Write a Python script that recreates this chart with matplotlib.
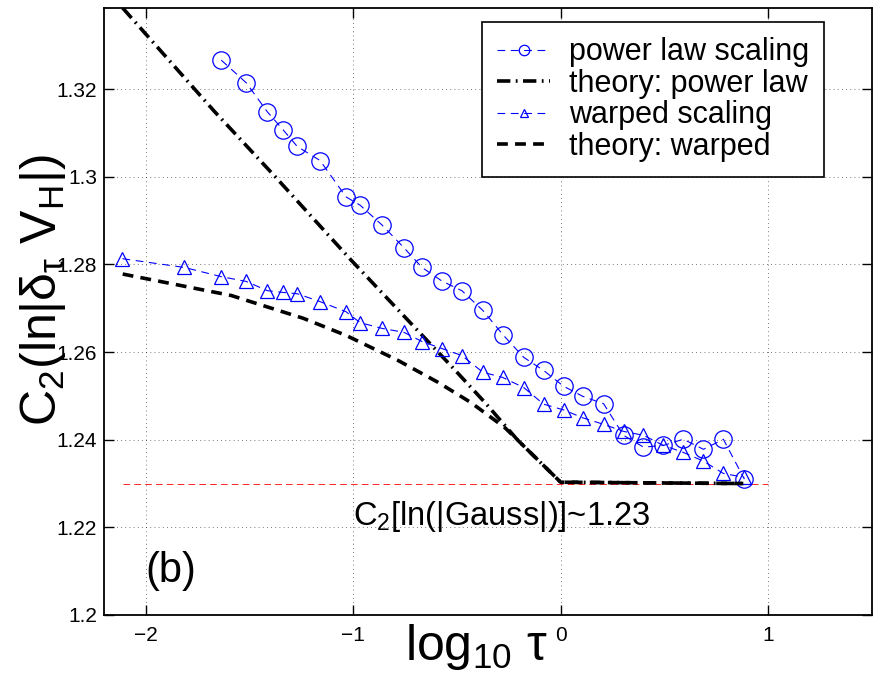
import numpy as np
import matplotlib
matplotlib.use('Agg')
import matplotlib.pyplot as plt

plt.rcParams['font.family'] = ['Liberation Sans', 'DejaVu Sans']
plt.rcParams['mathtext.fontset'] = 'custom'
plt.rcParams['mathtext.rm'] = 'Liberation Sans'
plt.rcParams['mathtext.it'] = 'Liberation Sans'
plt.rcParams['mathtext.bf'] = 'Liberation Sans:bold'

# power law scaling (circles)
pl_x = [-1.635, -1.514, -1.413, -1.337, -1.269, -1.159, -1.034, -0.966, -0.861,
        -0.755, -0.668, -0.572, -0.476, -0.375, -0.279, -0.178, -0.082, 0.014,
        0.106, 0.207, 0.303, 0.399, 0.495, 0.591, 0.688, 0.784, 0.885]
pl_y = [1.3266, 1.3214, 1.3148, 1.3107, 1.3069, 1.3037, 1.2954, 1.2935, 1.2890,
        1.2838, 1.2793, 1.2762, 1.2740, 1.2695, 1.2640, 1.2588, 1.2558, 1.2522,
        1.2499, 1.2482, 1.2410, 1.2383, 1.2387, 1.2401, 1.2378, 1.2401, 1.2310]

# warped scaling (triangles)
wp_x = [-2.111, -1.813, -1.635, -1.514, -1.413, -1.337, -1.269, -1.159, -1.034,
        -0.966, -0.861, -0.755, -0.668, -0.572, -0.476, -0.375, -0.279, -0.178,
        -0.082, 0.014, 0.106, 0.207, 0.303, 0.399, 0.495, 0.591, 0.688, 0.784, 0.885]
wp_y = [1.2813, 1.2793, 1.2772, 1.2761, 1.2740, 1.2736, 1.2733, 1.2715, 1.2692,
        1.2667, 1.2654, 1.2645, 1.2624, 1.2608, 1.2592, 1.2554, 1.2542, 1.2519,
        1.2481, 1.2468, 1.2450, 1.2435, 1.2419, 1.2410, 1.2387, 1.2371, 1.2351,
        1.2323, 1.2314]

# theory curves
th_pl_x = [-2.11, -1.67, -1.375, -1.01, -0.529, -0.365, -0.207, 0.0, 0.88]
th_pl_y = [1.3385, 1.315, 1.300, 1.281, 1.2569, 1.2485, 1.2399, 1.2303, 1.2300]
th_wp_x = [-2.11, -1.587, -1.24, -1.034, -0.784, -0.591, -0.433, -0.27, -0.207, 0.0, 0.88]
th_wp_y = [1.2778, 1.2729, 1.2677, 1.2638, 1.2581, 1.2531, 1.2485, 1.2428, 1.2399, 1.2303, 1.2300]

# gaussian reference level
gauss_x = [-2.11, 1.0]
gauss_y = [1.23, 1.23]

xticks = [-2, -1, 0, 1]
xtick_labels = ['\u22122', '\u22121', '0', '1']
yticks = [1.2, 1.22, 1.24, 1.26, 1.28, 1.3, 1.32]
ytick_labels = ['1.2', '1.22', '1.24', '1.26', '1.28', '1.3', '1.32']

fig = plt.figure(figsize=(8.81, 6.83), dpi=100)
ax = fig.add_axes([104 / 881, 68 / 683, 768 / 881, 607 / 683])

ax.plot(gauss_x, gauss_y, color='r', lw=0.6, dashes=(8, 5))
l1, = ax.plot(pl_x, pl_y, color='b', lw=0.8, dashes=(7, 5), marker='o', ms=12.5,
              mfc='none', mec='b', mew=0.9, label='power law scaling')
l2, = ax.plot(th_pl_x, th_pl_y, color='k', lw=2.6, dashes=(3.7, 1.5, 0.5, 1.5),
              label='theory: power law')
l3, = ax.plot(wp_x, wp_y, color='b', lw=0.8, dashes=(7, 5), marker='^', ms=9.5,
              mfc='none', mec='b', mew=0.9, label='warped scaling')
l4, = ax.plot(th_wp_x, th_wp_y, color='k', lw=2.6, dashes=(3, 2),
              label='theory: warped')

ax.set_xlim(-2.2, 1.5)
ax.set_ylim(1.2, 1.3385)
ax.set_xticks(xticks)
ax.set_xticklabels(xtick_labels)
ax.set_yticks(yticks)
ax.set_yticklabels(ytick_labels)
ax.tick_params(direction='in', length=7, width=1, top=True, right=True,
               labelsize=15)
ax.tick_params(axis='y', pad=5)
ax.tick_params(axis='x', pad=8)
for s in ax.spines.values():
    s.set_linewidth(1.3)
ax.grid(True, color='k', linestyle=(0, (1, 4)), lw=0.6, alpha=0.7)

ax.set_xlabel(r'log$_{10}$ $\tau$', fontsize=36)
ax.xaxis.set_label_coords(0.485, -0.012)
ax.set_ylabel(r'C$_2$(ln|$\delta_\tau$ V$_H$|)', fontsize=36)
ax.yaxis.set_label_coords(-0.047, 0.535)

ax.text(-1.0, 1.2205, r'C$_2$[ln(|Gauss|)]~1.23', fontsize=23.5)
ax.text(-2.0, 1.2075, '(b)', fontsize=30)

leg = ax.legend(handles=[l1, l2, l3, l4], loc='upper right',
                bbox_to_anchor=(0.9375, 0.977), borderaxespad=0, fontsize=22,
                fancybox=False, framealpha=1, edgecolor='k', markerscale=0.6,
                handlelength=1.75, handletextpad=0.6, labelspacing=0.05,
                borderpad=0.5)
leg.get_frame().set_linewidth(1.2)

fig.savefig('out.png', dpi=100)
